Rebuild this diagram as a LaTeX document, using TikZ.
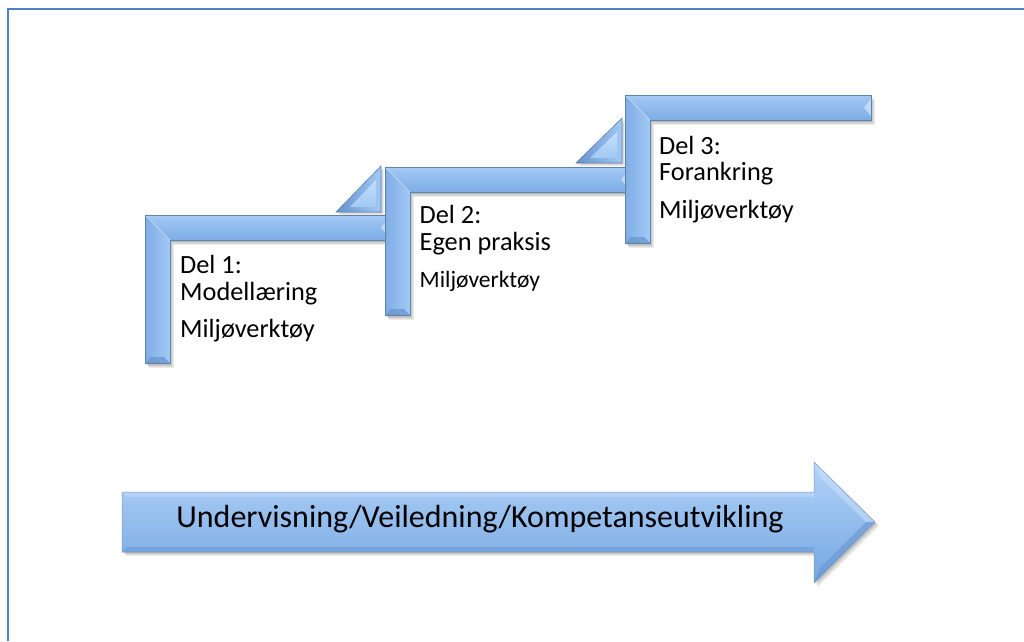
\documentclass[tikz,border=0pt]{standalone}
\usepackage{fontspec}
\setmainfont{Carlito}
\definecolor{frameblue}{HTML}{4F81BD}
\definecolor{edgeblue}{HTML}{5F82AB}
\definecolor{barlight}{HTML}{C4DEFB}
\definecolor{barmid}{HTML}{A3C9F4}
\definecolor{bardark}{HTML}{7EADE5}
\definecolor{facetdark}{HTML}{6593CF}
\definecolor{facetlight}{HTML}{D3E6FC}
\definecolor{arrowtop}{HTML}{B2D3F8}
\definecolor{arrowmid}{HTML}{93BFF0}
\definecolor{arrowbot}{HTML}{74A6E2}

\tikzset{
  outline/.style={draw=edgeblue, line width=0.6pt, line join=miter},
  vbar/.style={left color=bardark, middle color=barlight, right color=barmid},
  hbar/.style={top color=barmid, middle color=barlight, bottom color=bardark},
  softshadow/.style={fill=black, fill opacity=0.07, draw=none},
  label/.style={anchor=base west, inner sep=0pt, font=\fontsize{26.3}{31}\selectfont},
}

% L-shaped bevelled step: #1,#2 outer corner, #3 right end, #4 bottom end
\newcommand\stairstep[4]{%
  \foreach \s in {1,2,3,4}{
    \fill[softshadow] ({#1+\s},{#2+\s+1}) -- ({#3+\s},{#2+\s+1}) -- ({#3+\s},{#2+26+\s})
      -- ({#1+25+\s},{#2+26+\s}) -- ({#1+25+\s},{#4+\s+1}) -- ({#1+\s},{#4+\s+1}) -- cycle;
  }
  \shade[vbar] (#1,#2) -- ({#1+25},{#2+25}) -- ({#1+25},#4) -- (#1,#4) -- cycle;
  \shade[hbar] (#1,#2) -- (#3,#2) -- (#3,{#2+25}) -- ({#1+25},{#2+25}) -- cycle;
  \fill[facetdark, opacity=0.7] (#1,#4) -- ({#1+25},#4) -- ({#1+19},{#4-6}) -- ({#1+6},{#4-6}) -- cycle;
  \fill[facetlight, opacity=0.7] (#3,{#2+4}) -- (#3,{#2+21}) -- ({#3-7},{#2+12.5}) -- cycle;
  \draw[white, opacity=0.5, line width=0.6pt] (#1,#2) -- ({#1+25},{#2+25});
  \draw[outline] (#1,#2) -- (#3,#2) -- (#3,{#2+25}) -- ({#1+25},{#2+25})
    -- ({#1+25},#4) -- (#1,#4) -- cycle;
}

% bevelled right triangle: #1 left x, #2 right x, #3 bottom y, #4 top y
\newcommand\risertri[4]{%
  \foreach \s in {1,2,3}{
    \fill[softshadow] ({#1+\s},{#3+\s}) -- ({#2+\s},{#3+\s}) -- ({#2+\s},{#4+\s}) -- cycle;
  }
  \shade[left color=facetdark, right color=barmid] (#1,#3) -- (#2,#3) -- (#2,#4) -- cycle;
  \shade[top color=barlight, bottom color=barmid] ({#1+14},{#3-5}) -- ({#2-5},{#3-5}) -- ({#2-5},{#4+14}) -- cycle;
  \draw[outline] (#1,#3) -- (#2,#3) -- (#2,#4) -- cycle;
}

\begin{document}
\begin{tikzpicture}[x=1pt, y=-1pt]
\useasboundingbox (0,0) rectangle (1024,641);
\fill[white] (0,0) rectangle (1024,641);

% page frame
\coordinate (frameBL) at (8,641);
\coordinate (frameTL) at (8,8.5);
\coordinate (frameTR) at (1024,8.5);
\draw[frameblue, line width=2pt] (frameBL) -- (frameTL) -- (frameTR);

% stairs
\stairstep{145}{215}{388}{363}
\risertri{336}{381}{212}{166}
\stairstep{385}{167}{628}{315}
\risertri{576}{622}{163}{118}
\stairstep{625}{95}{871}{243}

% step labels
\node[label] (d1a) at (180,273) {Del 1:};
\node[label] (d1b) at (180,300) {Modellæring};
\node[label] (d1c) at (180,337) {Miljøverktøy};

\node[label] (d2a) at (419.5,223.5) {Del 2:};
\node[label] (d2b) at (419.5,250.5) {Egen praksis};
\node[label, font=\fontsize{23.5}{28}\selectfont] (d2c) at (419.5,287.5) {Miljøverktøy};

\node[label] (d3a) at (659,154) {Del 3:};
\node[label] (d3b) at (659,180) {Forankring};
\node[label] (d3c) at (659,218) {Miljøverktøy};

% process arrow
\foreach \s in {1,2,3,4}{
  \fill[softshadow] ({122+\s},{492+\s}) -- ({814+\s},{492+\s}) -- ({814+\s},{462+\s})
    -- ({875+\s},{522+\s}) -- ({814+\s},{583+\s}) -- ({814+\s},{552+\s}) -- ({122+\s},{552+\s}) -- cycle;
}
\shade[top color=arrowtop, middle color=arrowmid, bottom color=arrowbot]
  (122,492) -- (814,492) -- (814,462) -- (875,522) -- (814,583) -- (814,552) -- (122,552) -- cycle;
\fill[facetlight, opacity=0.45] (814,462) -- (875,522) -- (866,522) -- (820,477) -- cycle;
\fill[facetdark, opacity=0.55] (814,583) -- (875,522) -- (866,522) -- (820,568) -- cycle;
\fill[facetlight, opacity=0.4] (122,492) -- (814,492) -- (814,497) -- (127,497) -- cycle;
\fill[facetdark, opacity=0.45] (122,552) -- (814,552) -- (814,547) -- (127,547) -- cycle;
\draw[draw=edgeblue!80, line width=0.5pt, line join=miter]
  (122,492) -- (814,492) -- (814,462) -- (875,522) -- (814,583) -- (814,552) -- (122,552) -- cycle;
\node[anchor=base, inner sep=0pt, font=\fontsize{32}{38}\selectfont] (flow) at (480,527.5)
  {Undervisning/Veiledning/Kompetanseutvikling};
\end{tikzpicture}
\end{document}
